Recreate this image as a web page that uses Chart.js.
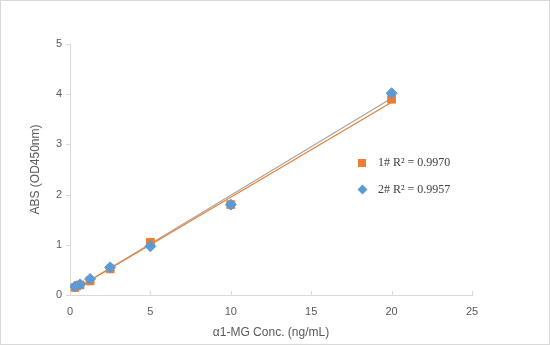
<!DOCTYPE html>
<html>
<head>
<meta charset="utf-8">
<script src="https://cdn.jsdelivr.net/npm/chart.js@4.4.1/dist/chart.umd.min.js"></script>
<style>
  html, body { margin: 0; padding: 0; background: #fff; }
  #wrap { position: relative; width: 550px; height: 345px; box-sizing: border-box; border: 1px solid #d9d9d9; }
  canvas { position: absolute; left: 0; top: 0; }
  .leg { position: absolute; font-family: "Liberation Serif", "Times New Roman", serif; font-size: 12px; color: #404040; white-space: nowrap; }
</style>
</head>
<body>
<div id="wrap">
  <canvas id="c" width="548" height="343"></canvas>
</div>
<script>
const concentrations = [0.3125, 0.625, 1.25, 2.5, 5, 10, 20];
const series1 = [0.15, 0.20, 0.28, 0.52, 1.05, 1.80, 3.90];
const series2 = [0.17, 0.21, 0.32, 0.55, 0.97, 1.80, 4.02];
const seriesLabels = ['1# R² = 0.9970', '2# R² = 0.9957'];
const xTicks = [0, 5, 10, 15, 20, 25];
const yTicks = [0, 1, 2, 3, 4, 5];

function fit(xs, ys) {
  const n = xs.length;
  const mx = xs.reduce((a, b) => a + b, 0) / n;
  const my = ys.reduce((a, b) => a + b, 0) / n;
  let sxy = 0, sxx = 0;
  for (let i = 0; i < n; i++) { sxy += (xs[i] - mx) * (ys[i] - my); sxx += (xs[i] - mx) ** 2; }
  const m = sxy / sxx, b = my - m * mx;
  const x0 = Math.min(...xs), x1 = Math.max(...xs);
  return [{ x: x0, y: m * x0 + b }, { x: x1, y: m * x1 + b }];
}
const pts = ys => concentrations.map((x, i) => ({ x, y: ys[i] }));

const orange = '#ed7d31', blue = '#5b9bd5';

new Chart(document.getElementById('c'), {
  type: 'scatter',
  data: {
    datasets: [
      { label: 'trend1', data: fit(concentrations, series1), showLine: true, borderColor: orange, borderWidth: 1.2, pointRadius: 0, order: 3 },
      { label: 'trend2', data: fit(concentrations, series2), showLine: true, borderColor: '#a5a5a5', borderWidth: 1.2, pointRadius: 0, order: 4 },
      { label: seriesLabels[0], data: pts(series1), pointStyle: 'rect', pointRadius: 5.5, backgroundColor: orange, borderColor: orange, order: 2 },
      { label: seriesLabels[1], data: pts(series2), pointStyle: 'rectRot', pointRadius: 5.5, backgroundColor: blue, borderColor: blue, order: 1 }
    ]
  },
  options: {
    responsive: false,
    animation: false,
    layout: { padding: { left: 0, top: 43, right: 77, bottom: 0 } },
    plugins: { legend: { display: false }, tooltip: { enabled: false } },
    scales: {
      x: {
        type: 'linear', min: 0, max: 25,
        afterBuildTicks: s => { s.ticks = xTicks.map(v => ({ value: v })); },
        afterFit: s => { s.height = 49; },
        grid: { display: false, drawTicks: true },
        border: { color: '#d9d9d9', width: 1 },
        ticks: { color: '#595959', font: { family: 'Liberation Sans, Arial', size: 11 }, padding: 2 },
        title: { display: true, text: 'α1-MG Conc. (ng/mL)', color: '#595959', font: { family: 'Liberation Sans, Arial', size: 12 }, padding: { top: 0 } }
      },
      y: {
        type: 'linear', min: 0, max: 5,
        afterBuildTicks: s => { s.ticks = yTicks.map(v => ({ value: v })); },
        afterFit: s => { s.width = 69; },
        grid: { display: false },
        border: { color: '#d9d9d9', width: 1 },
        ticks: { color: '#595959', font: { family: 'Liberation Sans, Arial', size: 11 }, padding: 0 },
        title: { display: true, text: 'ABS (OD450nm)', color: '#595959', font: { family: 'Liberation Sans, Arial', size: 12 }, padding: { top: 27, bottom: 0 } }
      }
    }
  },
  plugins: [{
    id: 'tickmarks',
    afterDraw(chart) {
      const ctx = chart.ctx, xs = chart.scales.x, ys = chart.scales.y;
      ctx.save();
      ctx.strokeStyle = '#d9d9d9'; ctx.lineWidth = 1;
      xTicks.forEach(v => { const p = Math.round(xs.getPixelForValue(v)) + 0.5; ctx.beginPath(); ctx.moveTo(p, ys.bottom); ctx.lineTo(p, ys.bottom - 4); ctx.stroke(); });
      yTicks.forEach(v => { const p = Math.round(ys.getPixelForValue(v)) + 0.5; ctx.beginPath(); ctx.moveTo(xs.left, p); ctx.lineTo(xs.left - 4, p); ctx.stroke(); });
      ctx.restore();
    }
  }]
});
</script>
<div class="leg" style="left:378px; top:155px;">1# R² = 0.9970</div>
<div class="leg" style="left:378px; top:182px;">2# R² = 0.9957</div>
<div style="position:absolute; left:358px; top:159px; width:8px; height:8px; background:#ed7d31;"></div>
<div style="position:absolute; left:359px; top:186px; width:7px; height:7px; background:#5b9bd5; transform:rotate(45deg);"></div>
</body>
</html>
